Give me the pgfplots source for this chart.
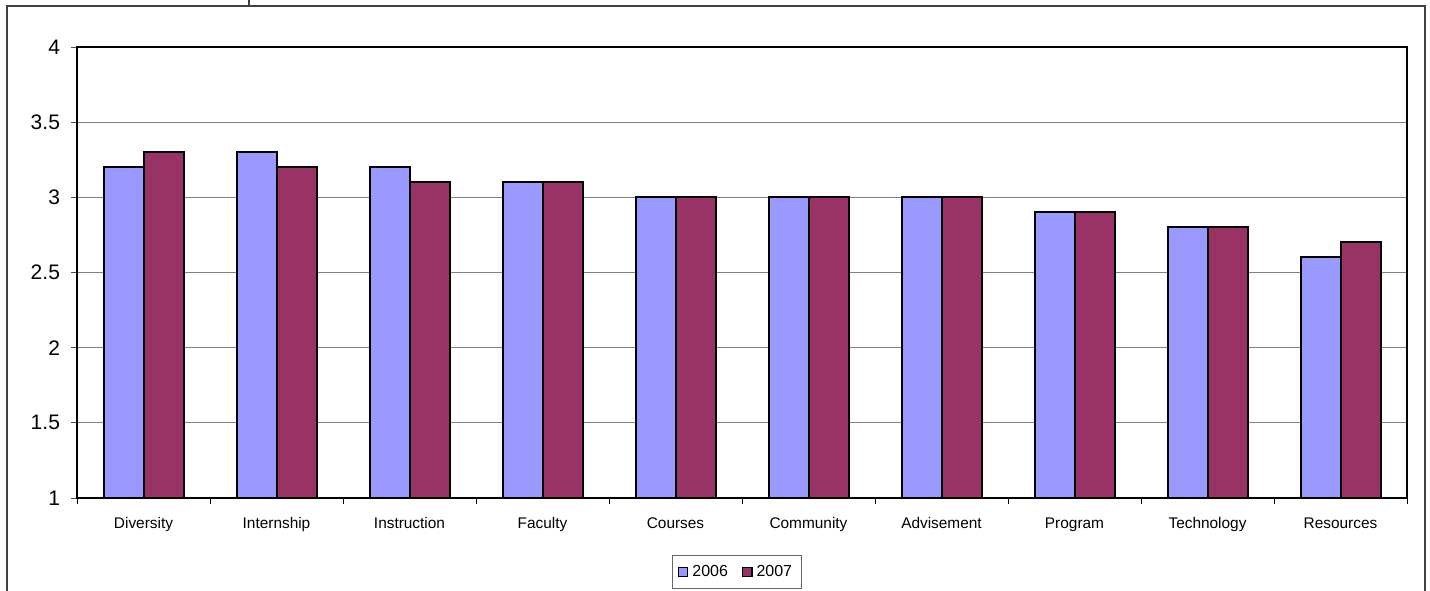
\documentclass[border=0pt]{standalone}
\usepackage{pgfplots}
\pgfplotsset{compat=1.18}
\usepackage{fontspec}
\setmainfont{Liberation Sans}
\definecolor{c2006}{HTML}{9999FF}
\definecolor{c2007}{HTML}{993366}
\begin{document}
\begin{tikzpicture}
\useasboundingbox (0pt,0pt) rectangle (715pt,295pt);
\draw[line width=0.9pt, black!75] (3.5pt,-5pt) -- (3.5pt,292pt) -- (712.5pt,292pt) -- (712.5pt,-5pt);
\draw[line width=0.9pt, black!75] (124.5pt,292pt) -- (124.5pt,296pt);
\begin{axis}[
  at={(38.5pt,46pt)}, anchor=south west,
  scale only axis, width=665pt, height=225.5pt,
  ybar=0pt, bar width=20pt,
  xmin=-0.5, xmax=9.5, ymin=1, ymax=4,
  ytick={1,1.5,2,2.5,3,3.5,4},
  yticklabels={1,1.5,2,2.5,3,3.5,4},
  ymajorgrids, grid style={gray, line width=0.5pt},
  xtick={0,...,9},
  xticklabels={Diversity,Internship,Instruction,Faculty,Courses,Community,Advisement,Program,Technology,Resources},
  major x tick style={draw=none},
  minor xtick={-0.5,0.5,...,9.5},
  minor x tick style={black, line width=0.5pt},
  minor tick length=3pt,
  tick align=outside, tick pos=left,
  major tick length=3pt,
  y tick style={black!70, line width=0.5pt},
  axis line style={black, line width=0.8pt},
  x tick label style={font=\fontsize{7.7}{9}\selectfont, yshift=-0.5pt, text height=1.6ex, text depth=0.5ex},
  y tick label style={font=\fontsize{10.5}{12}\selectfont, xshift=-2pt},
  legend style={at={(0.4962,-0.164)}, anchor=center, legend columns=2,
    draw=black!60, line width=0.5pt, font=\fontsize{8}{9}\selectfont,
    inner sep=2.5pt,
    /tikz/every even column/.append style={column sep=5pt}},
  legend image code/.code={\draw[#1, line width=0.7pt] (0pt,-2.3pt) rectangle (4.6pt,2.3pt);},
]
\addplot[fill=c2006, draw=black, line width=1pt] coordinates {(0,3.2) (1,3.3) (2,3.2) (3,3.1) (4,3.0) (5,3.0) (6,3.0) (7,2.9) (8,2.8) (9,2.6)};
\addplot[fill=c2007, draw=black, line width=1pt] coordinates {(0,3.3) (1,3.2) (2,3.1) (3,3.1) (4,3.0) (5,3.0) (6,3.0) (7,2.9) (8,2.8) (9,2.7)};
\legend{2006,2007}
\end{axis}
\end{tikzpicture}
\end{document}
